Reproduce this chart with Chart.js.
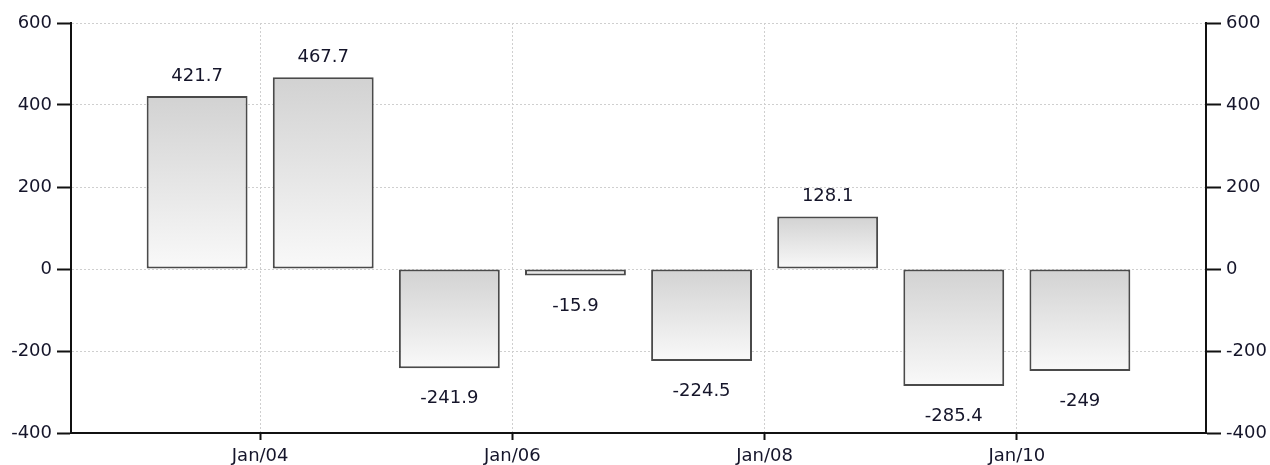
<!DOCTYPE html>
<html>
<head>
<meta charset="utf-8">
<script src="https://cdn.jsdelivr.net/npm/chart.js@4.4.0/dist/chart.umd.min.js"></script>
<style>
  html, body { margin: 0; padding: 0; background: #fff; }
</style>
</head>
<body>
<canvas id="myChart" width="1270" height="465"></canvas>
<script>
	// data
	var years = [2003, 2004, 2005, 2006, 2007, 2008, 2009, 2010];
	var values = [421.7, 467.7, -241.9, -15.9, -224.5, 128.1, -285.4, -249];
	var xTicks = [2004, 2006, 2008, 2010];
	var yTicks = [-400, -200, 0, 200, 400, 600];

	var textColor = '#15152a';
	var font = { family: 'DejaVu Sans', size: 18 };

	// value labels above / below the bars
	var barLabels = {
		id: 'barLabels',
		afterDatasetsDraw: function (chart) {
			var ctx = chart.ctx;
			var meta = chart.getDatasetMeta(0);
			ctx.save();
			ctx.font = '18px "DejaVu Sans"';
			ctx.fillStyle = textColor;
			ctx.textAlign = 'center';
			ctx.textBaseline = 'alphabetic';
			meta.data.forEach(function (bar, i) {
				var v = values[i];
				if (v >= 0) {
					ctx.fillText(String(v), bar.x, bar.y - 15);
				} else {
					ctx.fillText(String(v), bar.x, bar.y + 35);
				}
			});
			ctx.restore();
		}
	};

	function barFill(c) {
		var chart = c.chart;
		if (!chart.chartArea) return '#e0e0e0';
		var v = values[c.dataIndex];
		var ys = chart.scales.y;
		var top = ys.getPixelForValue(Math.max(v, 0));
		var bot = ys.getPixelForValue(Math.min(v, 0));
		if (bot - top < 1) bot = top + 1;
		var g = chart.ctx.createLinearGradient(0, top, 0, bot);
		g.addColorStop(0, '#d2d2d2');
		g.addColorStop(1, '#f9f9f9');
		return g;
	}

	var ctx = document.getElementById('myChart').getContext('2d');
	var chart = new Chart(ctx, {
		type: 'bar',
		data: {
			datasets: [{
				data: years.map(function (y, i) { return { x: y + 0.5, y: values[i] }; }),
				backgroundColor: barFill,
				borderColor: '#4a4a4a',
				borderWidth: 2,
				borderSkipped: false,
				barPercentage: 0.8,
				categoryPercentage: 1,
				yAxisID: 'y'
			}]
		},
		options: {
			responsive: false,
			animation: false,
			devicePixelRatio: 1,
			layout: { padding: { top: 23, left: 0, right: 0, bottom: 0 } },
			plugins: { legend: { display: false }, tooltip: { enabled: false } },
			scales: {
				x: {
					type: 'linear',
					min: 2002.5,
					max: 2011.5,
					offset: false,
					afterBuildTicks: function (s) { s.ticks = xTicks.map(function (v) { return { value: v }; }); },
					afterFit: function (s) { s.height = 32; },
					ticks: {
						color: textColor,
						font: font,
						padding: 6,
						autoSkip: false,
						maxRotation: 0,
						callback: function (v) { return 'Jan/' + String(v).slice(2); }
					},
					grid: {
						offset: false,
						color: '#cfcfcf',
						lineWidth: 1,
						tickLength: 7,
						tickColor: '#111',
						tickWidth: 2
					},
					border: { color: '#111', width: 2, dash: [2, 2] }
				},
				y: {
					position: 'left',
					min: -400,
					max: 600,
					afterBuildTicks: function (s) { s.ticks = yTicks.map(function (v) { return { value: v }; }); },
					afterFit: function (s) { s.width = 71; },
					ticks: { color: textColor, font: font, padding: 5 },
					grid: {
						color: '#cfcfcf',
						lineWidth: 1,
						tickLength: 14,
						tickColor: '#111',
						tickWidth: 2
					},
					border: { color: '#111', width: 2, dash: [2, 2] }
				},
				y2: {
					position: 'right',
					min: -400,
					max: 600,
					afterBuildTicks: function (s) { s.ticks = yTicks.map(function (v) { return { value: v }; }); },
					afterFit: function (s) { s.width = 64; },
					ticks: { color: textColor, font: font, padding: 5 },
					grid: {
						drawOnChartArea: false,
						tickLength: 15,
						tickColor: '#111',
						tickWidth: 2
					},
					border: { color: '#111', width: 2 }
				}
			}
		},
		plugins: [barLabels]
	});
</script>
</body>
</html>
